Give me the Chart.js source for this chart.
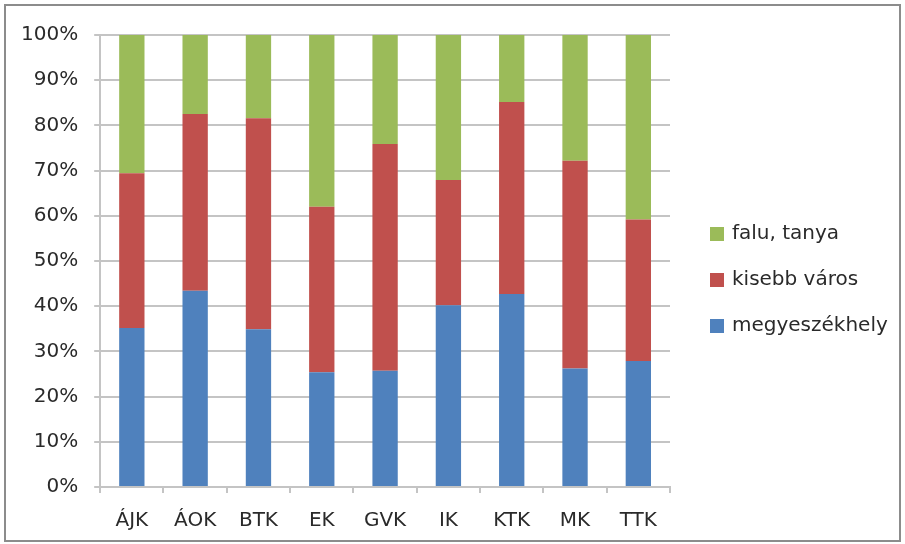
<!DOCTYPE html>
<html>
<head>
<meta charset="utf-8">
<script src="https://cdn.jsdelivr.net/npm/chart.js@4"></script>
<style>
  body { margin: 0; background: #fff; }
  #wrap {
    position: absolute; left: 4px; top: 4px;
    width: 893px; height: 534px;
    border: 2px solid #8c8c8c;
    background: #fff;
  }
</style>
</head>
<body>
<div id="wrap"><canvas id="chart"></canvas></div>
<script>
const categories = ['ÁJK', 'ÁOK', 'BTK', 'EK', 'GVK', 'IK', 'KTK', 'MK', 'TTK'];
const megyeszekhely = [35.2, 43.4, 34.9, 25.4, 25.7, 40.2, 42.7, 26.2, 27.9];
const kisebbVaros = [34.2, 39.1, 46.7, 36.6, 50.2, 27.7, 42.5, 46.0, 31.3];
const faluTanya = [30.6, 17.5, 18.4, 38.0, 24.1, 32.1, 14.8, 27.8, 40.8];

const textColor = '#2a2a2a';
const gridColor = '#c4c4c4';
const fontFamily = '"DejaVu Sans", sans-serif';

// legend on the right, green on top like the original
const sideLegend = {
    id: 'sideLegend',
    afterDraw(chart) {
        const { ctx, chartArea } = chart;
        const items = chart.data.datasets.slice().reverse();
        const x = chartArea.right + 40;
        let y = chartArea.top + 199;
        ctx.save();
        ctx.font = '20px ' + fontFamily;
        ctx.textBaseline = 'middle';
        items.forEach(ds => {
            ctx.fillStyle = ds.backgroundColor;
            ctx.fillRect(x, y - 7, 14, 14);
            ctx.fillStyle = textColor;
            ctx.fillText(ds.label, x + 22, y);
            y += 46;
        });
        ctx.restore();
    }
};

new Chart(document.getElementById('chart'), {
    type: 'bar',
    data: {
        labels: categories,
        datasets: [
            { label: 'megyeszékhely', data: megyeszekhely, backgroundColor: '#4f81bd' },
            { label: 'kisebb város', data: kisebbVaros, backgroundColor: '#c0504d' },
            { label: 'falu, tanya', data: faluTanya, backgroundColor: '#9bbb59' }
        ]
    },
    options: {
        responsive: true,
        maintainAspectRatio: false,
        animation: false,
        barPercentage: 0.4,
        categoryPercentage: 1,
        layout: { padding: { top: 29, left: -1, right: 229, bottom: -9 } },
        plugins: {
            tooltip: { enabled: false },
            legend: { display: false }
        },
        scales: {
            x: {
                stacked: true,
                grid: {
                    offset: true,
                    drawOnChartArea: false,
                    color: gridColor,
                    lineWidth: 2,
                    tickLength: 6
                },
                border: { color: gridColor, width: 2 },
                ticks: {
                    color: textColor,
                    font: { family: fontFamily, size: 20 },
                    padding: 16
                }
            },
            y: {
                stacked: true,
                min: 0,
                max: 100,
                grid: { color: gridColor, lineWidth: 2, tickLength: 6 },
                border: { color: gridColor, width: 2 },
                ticks: {
                    stepSize: 10,
                    color: textColor,
                    font: { family: fontFamily, size: 20 },
                    padding: 16,
                    callback: v => v + '%'
                }
            }
        }
    },
    plugins: [sideLegend]
});
</script>
</body>
</html>
